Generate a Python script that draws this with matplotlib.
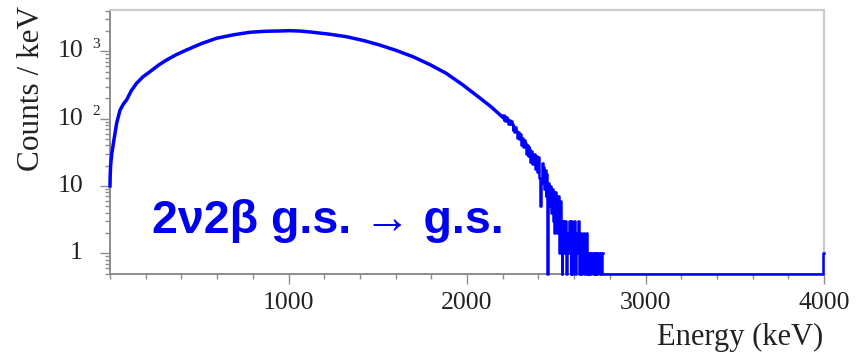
import numpy as np
import matplotlib
matplotlib.use("Agg")
import matplotlib.pyplot as plt
from matplotlib.ticker import MultipleLocator, LogLocator, NullFormatter
from matplotlib.transforms import offset_copy

plt.rcParams["path.simplify"] = False

# ---- data (counts per keV) ----
smooth_E = [0, 1, 3, 6, 10, 19, 37, 56, 75, 93, 120, 149, 185, 224, 270, 317, 370,
            429, 510, 597, 690, 783, 870, 951, 1007, 1070, 1137, 1230, 1324, 1420,
            1510, 1600, 1697, 1790, 1883, 1975, 2070, 2135, 2200]
smooth_counts = [10, 14, 19, 24, 30, 43, 85, 134, 165, 190, 262, 336, 420, 499, 620, 745, 890,
                 1050, 1300, 1566, 1760, 1923, 1990, 2010, 2031, 2000, 1923, 1800, 1653, 1450,
                 1245, 1040, 834, 640, 473, 320, 205, 150, 105]

tail_start = 2200
tail_step = 5
tail_counts = [114, 96, 110, 93, 106,
               98, 84, 96, 82, 92,
               82, 68, 79, 64, 74,
               66, 52, 64, 50, 60,
               54, 40, 51, 38, 48,
               43, 30, 41, 28, 38,
               36, 23, 33, 21, 30,
               30, 18, 28, 16, 26,
               27, 13, 5, 11, 22,
               19, 9, 17, 7, 15,
               0, 11, 5, 10, 4,
               9, 3, 8, 2, 8,
               7, 2, 7, 1, 6,
               3, 0, 3, 1, 3,
               3, 0, 2, 1, 3,
               2, 0, 3, 0, 2,
               3, 0, 2, 1, 3,
               2, 0, 2, 0, 1,
               2, 0, 1, 2, 0,
               1, 0, 1, 0, 1,
               1, 0, 1, 0, 1,
               0, 1, 1, 0, 1,
               0, 1]
end_E = [2760, 3996, 4000]
end_counts = [0, 1, 1]

xticks = [1000, 2000, 3000, 4000]
ytick_vals = [1, 10, 100, 1000]
xlim = (0, 4000)
ylim = (0.5, 4120)

label_txt = "2\u03bd2\u03b2 g.s. \u2192 g.s."

# ---- figure ----
fig = plt.figure(figsize=(8.66, 3.56), dpi=100)
ax = fig.add_axes([110 / 866, 1 - 273.5 / 356, 714 / 866, 263.5 / 356])
ax.set_yscale("log")
ax.set_xlim(*xlim)
ax.set_ylim(*ylim)

line_col = "#0000ff"
ymin = ylim[0]

ax.plot(smooth_E, smooth_counts, color=line_col, lw=2.5, solid_joinstyle="miter",
        clip_on=False, zorder=3)
tail_E = tail_start + tail_step * np.arange(len(tail_counts))
tail_vals = np.where(np.array(tail_counts) > 0, tail_counts, ymin)
tail_E = np.append(tail_E, end_E[0])
tail_vals = np.append(tail_vals, tail_vals[-1])
ax.step(tail_E, tail_vals, where="post", color=line_col, lw=1.8, clip_on=False, zorder=3)
end_vals = np.where(np.array(end_counts) > 0, end_counts, ymin)
ax.step(end_E, end_vals, where="post", color=line_col, lw=1.8, clip_on=False, zorder=3)

# spines
axis_col = "#8c8c8c"
for s in ["left", "bottom"]:
    ax.spines[s].set_color(axis_col)
    ax.spines[s].set_linewidth(1.4)
for s in ["top", "right"]:
    ax.spines[s].set_color("#cccccc")
    ax.spines[s].set_linewidth(1.6)

# x ticks
ax.set_xticks(xticks)
ax.xaxis.set_minor_locator(MultipleLocator(200))
ax.tick_params(axis="x", which="major", length=7.5, width=1.0, color=axis_col,
               direction="out", pad=6, labelsize=18.5, labelcolor="#222222")
ax.tick_params(axis="x", which="minor", length=3.5, width=1.0, color=axis_col, direction="out")
for t in ax.get_xticklabels():
    t.set_fontfamily("Liberation Serif")

# y ticks
ax.set_yticks(ytick_vals)
ax.set_yticklabels([""] * len(ytick_vals))
ax.yaxis.set_minor_locator(LogLocator(base=10, subs=np.arange(2, 10)))
ax.yaxis.set_minor_formatter(NullFormatter())
ax.tick_params(axis="y", which="major", length=7.5, width=1.0, color=axis_col, direction="out")
ax.tick_params(axis="y", which="minor", length=3.5, width=1.0, color=axis_col, direction="out")

ytrans = ax.get_yaxis_transform()
for v in ytick_vals:
    e = int(round(np.log10(v)))
    base = "1" if e == 0 else "10"
    tb = offset_copy(ytrans, fig=fig, x=-27, y=0, units="dots")
    ax.text(0, v, base, transform=tb, ha="right", va="center", fontsize=18.5,
            family="Liberation Serif", color="#222222")
    if e >= 2:
        te = offset_copy(ytrans, fig=fig, x=-18, y=7, units="dots")
        ax.text(0, v, str(e), transform=te, ha="left", va="center", fontsize=11,
                family="Liberation Serif", color="#222222")

# axis labels
fig.text(32 / 866, 1 - 6 / 356, "Counts / keV", rotation=90, ha="center", va="top",
         fontsize=22.5, family="Liberation Serif", color="#222222")
fig.text(823 / 866, 1 - 337 / 356, "Energy (keV)", ha="right", va="center",
         fontsize=22, family="Liberation Serif", color="#222222")

# annotation
fig.text(152 / 866, 1 - 233 / 356, label_txt, ha="left", va="baseline",
         fontsize=33.5, fontweight="bold", family=["Liberation Sans", "DejaVu Sans"],
         color="#0000f0")

fig.savefig("out.png", dpi=100)
